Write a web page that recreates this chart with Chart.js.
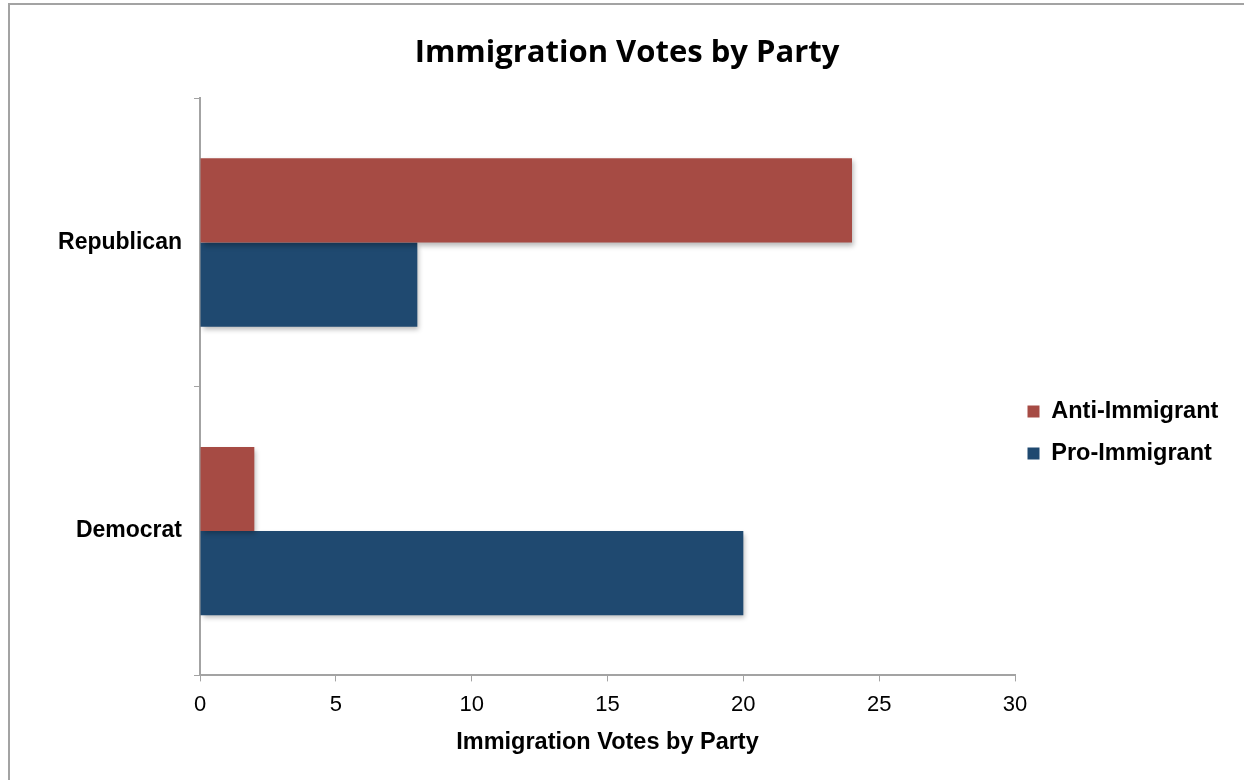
<!DOCTYPE html>
<html>
<head>
<meta charset="utf-8">
<title>Immigration Votes by Party</title>
<script src="https://cdn.jsdelivr.net/npm/chart.js@4.4.1/dist/chart.umd.min.js"></script>
<style>
    html, body { margin: 0; padding: 0; background: #fff; }
    #wrap { position: relative; width: 1244px; height: 780px; overflow: hidden; }
    #frame {
        position: absolute; left: 8px; top: 3px; width: 1300px; height: 900px;
        border-top: 2px solid #a3a3a3; border-left: 2px solid #a3a3a3;
    }
    #myChart { position: absolute; left: 0; top: 0; }
</style>
</head>
<body>
<div id="wrap">
    <div id="frame"></div>
    <canvas id="myChart" width="1244" height="780"></canvas>
</div>
<script>
// Votes per party, split by stance
const parties = ['Republican', 'Democrat'];
const antiImmigrant = [24, 2];
const proImmigrant = [8, 20];
const xTicks = [0, 5, 10, 15, 20, 25, 30];

const axisGray = '#a3a3a3';
const sans = '"Liberation Sans", Arial, sans-serif';

// soft drop shadow under the bars
const barShadow = {
    id: 'barShadow',
    beforeDatasetsDraw(chart) {
        const ctx = chart.ctx;
        ctx.save();
        ctx.shadowColor = 'rgba(0, 0, 0, 0.28)';
        ctx.shadowBlur = 5;
        ctx.shadowOffsetX = 2;
        ctx.shadowOffsetY = 3;
    },
    afterDatasetsDraw(chart) {
        chart.ctx.restore();
    }
};

// fixed-width legend column, nudged down and left a little
const legendPlace = {
    id: 'legendPlace',
    afterInit(chart) {
        const fit = chart.legend.fit;
        chart.legend.fit = function () {
            fit.call(this);
            this.width = 229;
        };
    },
    afterLayout(chart) {
        const lg = chart.legend;
        lg.top += 48;
        lg.bottom += 48;
        lg.left -= 6;
        lg.right -= 6;
    }
};

function initializeChart(ctx) {
    return new Chart(ctx, {
        type: 'bar',
        data: {
            labels: parties,
            datasets: [{
                label: 'Anti-Immigrant',
                data: antiImmigrant,
                backgroundColor: '#a64b44'
            }, {
                label: 'Pro-Immigrant',
                data: proImmigrant,
                backgroundColor: '#1f4970'
            }]
        },
        options: {
            indexAxis: 'y',
            responsive: false,
            animation: false,
            categoryPercentage: 0.583,
            barPercentage: 1.0,
            layout: { padding: { top: 8, left: 10, right: 0, bottom: 19 } },
            scales: {
                x: {
                    min: 0,
                    max: 30,
                    afterBuildTicks(scale) {
                        scale.ticks = xTicks.map(v => ({ value: v }));
                    },
                    grid: { drawOnChartArea: false, tickLength: 6, color: axisGray, lineWidth: 1 },
                    border: { color: axisGray, width: 2 },
                    ticks: {
                        padding: 10,
                        color: '#000',
                        font: { family: sans, size: 22 }
                    },
                    title: {
                        display: true,
                        text: 'Immigration Votes by Party',
                        color: '#000',
                        padding: { top: 1, bottom: 4 },
                        font: { family: sans, size: 23.5, weight: 'bold' }
                    }
                },
                y: {
                    afterFit(scale) { scale.width = 190; },
                    grid: { drawOnChartArea: false, tickLength: 6, color: axisGray, lineWidth: 1 },
                    border: { color: axisGray, width: 2 },
                    ticks: {
                        padding: 12,
                        color: '#000',
                        font: { family: sans, size: 23, weight: 'bold' }
                    }
                }
            },
            plugins: {
                title: {
                    display: true,
                    text: 'Immigration Votes by Party',
                    color: '#000',
                    padding: { top: 27, bottom: 26 },
                    font: { family: '"Open Sans", Lato, sans-serif', size: 31, weight: 'bold' }
                },
                legend: {
                    position: 'right',
                    labels: {
                        boxWidth: 12,
                        boxHeight: 12,
                        padding: 18.5,
                        color: '#000',
                        font: { family: sans, size: 23.5, weight: 'bold' }
                    }
                },
                tooltip: { enabled: false }
            }
        },
        plugins: [barShadow, legendPlace]
    });
}

window.onload = function () {
    const ctx = document.getElementById('myChart').getContext('2d');
    const myChart = initializeChart(ctx);
};
</script>
</body>
</html>
